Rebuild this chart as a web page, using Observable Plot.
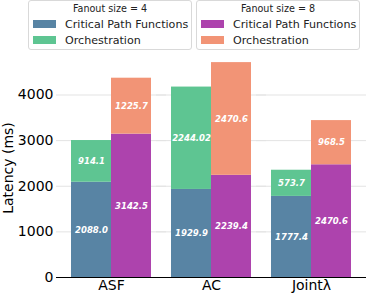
<!DOCTYPE html>
<html>
<head>
<meta charset="utf-8">
<script src="https://cdn.jsdelivr.net/npm/d3@7"></script>
<script src="https://cdn.jsdelivr.net/npm/@observablehq/plot@0.6"></script>
<style>
  html, body { margin: 0; padding: 0; background: #fff; }
  #wrap { position: relative; width: 366px; height: 295px; font-family: "DejaVu Sans", sans-serif; }
  .legend { position: absolute; top: 0; width: 164px; height: 50px; box-sizing: border-box;
    border: 1px solid #d9d9d9; border-radius: 3px; background: rgba(255,255,255,0.85); }
  .legend .title { position: absolute; left: 0; right: 0; top: 2px; text-align: center; font-size: 9.6px; line-height: 12px; color: #222; }
  .legend .row { position: absolute; left: 4px; height: 14px; display: flex; align-items: center; font-size: 11.1px; color: #222; }
  .legend .sw { width: 23px; height: 8px; margin-right: 9px; }
</style>
</head>
<body>
<div id="wrap"></div>
<script>
const categories = ["ASF", "AC", "Jointλ"];
const fanouts = ["4", "8"];
const types = ["Critical Path Functions", "Orchestration"];
// values per category, for fanout 4 and fanout 8
const critical4 = [2088.0, 1929.9, 1777.4];
const orchestration4 = [914.1, 2244.02, 573.7];
const critical8 = [3142.5, 2239.4, 2470.6];
const orchestration8 = [1225.7, 2470.6, 968.5];
const yTicks = [0, 1000, 2000, 3000, 4000];
const colors = {
  "4|Critical Path Functions": "#5884a4",
  "4|Orchestration": "#5ec592",
  "8|Critical Path Functions": "#ad43ad",
  "8|Orchestration": "#f29476"
};

const series = {
  "4": [critical4, orchestration4],
  "8": [critical8, orchestration8]
};
const data = [];
for (const f of fanouts) {
  categories.forEach((c, i) => {
    types.forEach((t, k) => {
      data.push({cat: c, fanout: f, type: t, key: f + "|" + t, value: series[f][k][i]});
    });
  });
}
const fmt = v => { const s = v.toFixed(2); return s.endsWith("0") ? v.toFixed(1) : s; };

const chart = Plot.plot({
  width: 366,
  height: 295,
  marginLeft: 56,
  marginRight: 0,
  marginTop: 58,
  marginBottom: 18,
  style: {fontFamily: "DejaVu Sans, sans-serif", background: "transparent"},
  fx: {domain: categories, paddingInner: 0.204, paddingOuter: 0.144, label: null},
  x: {domain: fanouts, padding: 0, axis: null},
  y: {domain: [0, 4800], label: null},
  color: {domain: Object.keys(colors), range: Object.values(colors)},
  marks: [
    Plot.ruleY(yTicks.filter(d => d > 0), {stroke: "#e3e3e3", strokeWidth: 1, insetLeft: -15, insetRight: -15}),
    Plot.barY(data, {fx: "cat", x: "fanout", y: "value", fill: "key", z: "key", order: null}),
    Plot.text(data, Plot.stackY({fx: "cat", x: "fanout", y: "value", z: "key", order: null,
      text: d => fmt(d.value), fill: "white", fontSize: 8.5, fontWeight: "bold", fontStyle: "italic"})),
    Plot.ruleY([0], {stroke: "#000", strokeWidth: 1, insetLeft: -15, insetRight: -15}),
    Plot.axisY({ticks: yTicks, tickFormat: d => String(d), tickSize: 0, tickPadding: 18, fontSize: 14,
      label: "Latency (ms)", labelAnchor: "center", labelArrow: "none", labelOffset: 68, color: "#000"}),
    Plot.axisFx({anchor: "bottom", tickSize: 0, tickPadding: 3, fontSize: 14, label: null, color: "#000"})
  ]
});
const wrap = document.getElementById("wrap");
wrap.appendChild(chart);

function legend(left, title, f) {
  const box = document.createElement("div");
  box.className = "legend";
  box.style.left = left + "px";
  const t = document.createElement("div");
  t.className = "title";
  t.textContent = title;
  box.appendChild(t);
  types.forEach((ty, k) => {
    const row = document.createElement("div");
    row.className = "row";
    row.style.top = (16 + k * 16) + "px";
    const sw = document.createElement("div");
    sw.className = "sw";
    sw.style.background = colors[f + "|" + ty];
    const lab = document.createElement("span");
    lab.textContent = ty;
    row.appendChild(sw);
    row.appendChild(lab);
    box.appendChild(row);
  });
  wrap.appendChild(box);
}
legend(28, "Fanout size = 4", "4");
legend(196, "Fanout size = 8", "8");
</script>
</body>
</html>
